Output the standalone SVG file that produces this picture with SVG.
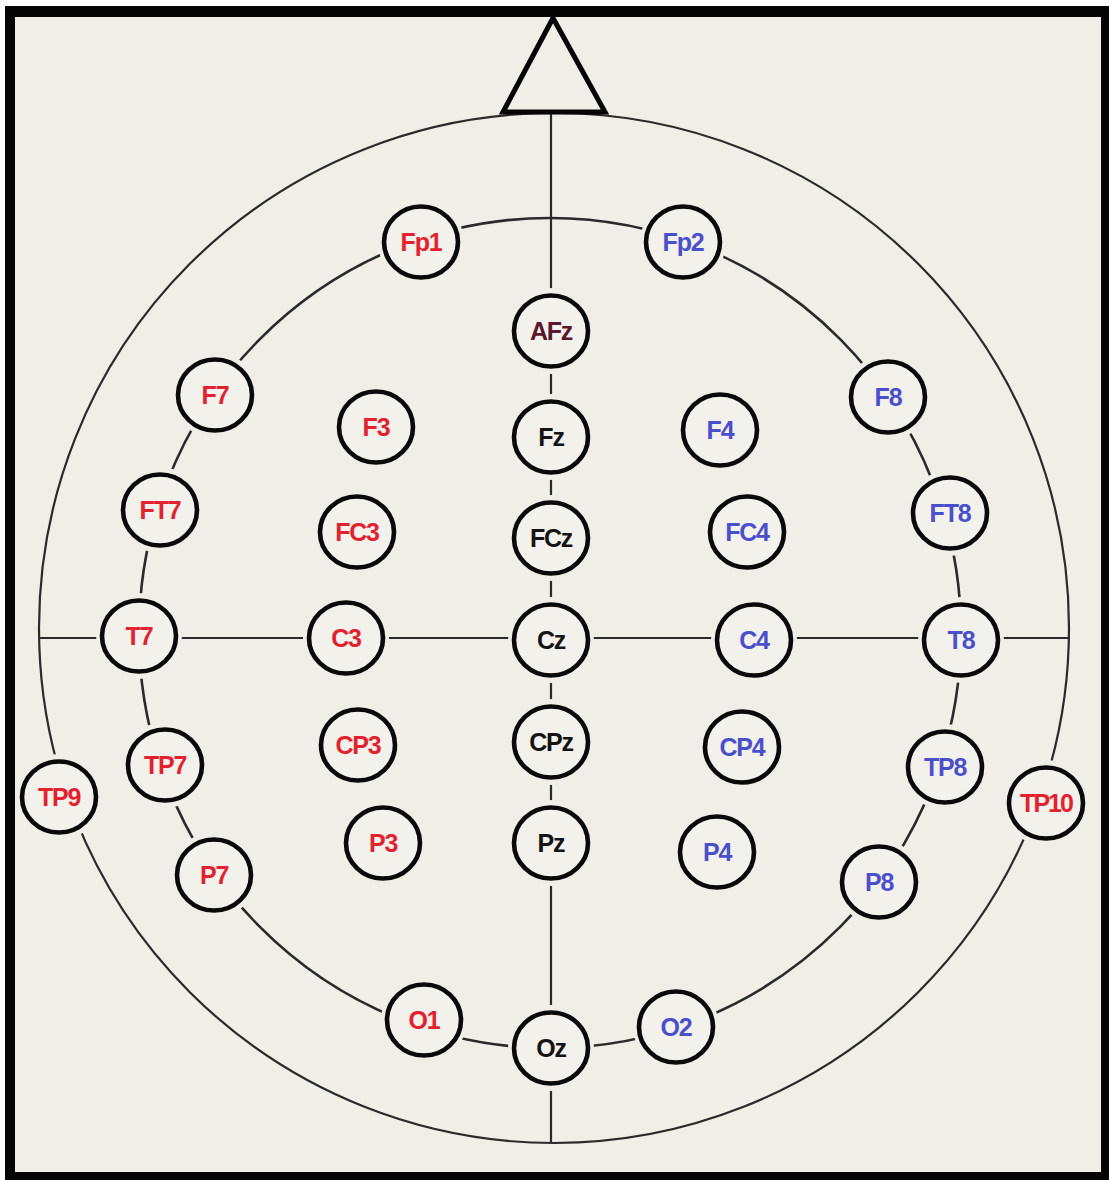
<svg xmlns="http://www.w3.org/2000/svg" width="1109" height="1180" viewBox="0 0 1109 1180">
<style>
.bg{fill:#f1eee8}
.line{fill:none;stroke:#2a2a2a;stroke-width:2.2}
.ring{fill:none;stroke:#2a2a2a;stroke-width:2.6}
.halo{fill:#f1eee8}
.node{fill:#f3f1ec;stroke:#0a0a0a;stroke-width:4.6}
text{font-family:"Liberation Sans",Arial,sans-serif;font-weight:bold;font-size:25px;text-anchor:middle;letter-spacing:-1.2px}
.r{fill:#e3222f}
.b{fill:#4b4fcc}
.k{fill:#141414}
.m{fill:#5a1830}
</style>
<rect x="0" y="0" width="1109" height="1180" fill="#ffffff"/>
<rect x="5" y="6" width="1104" height="1174" fill="#050505"/>
<rect class="bg" x="15" y="17" width="1086" height="1155"/>
<g id="connectors">
<ellipse class="line" cx="554" cy="628" rx="515" ry="515"/>
<ellipse class="ring" cx="550" cy="633" rx="411" ry="415"/>
<line class="line" x1="551" y1="112" x2="551" y2="1143"/>
<line class="line" x1="40" y1="638" x2="1070" y2="638"/>
</g>
<g id="nose">
<polygon points="553,18 503,112 605,112" fill="#f1eee8" stroke="#050505" stroke-width="5" stroke-linejoin="miter"/>
</g>
<g id="nodes">
<g id="Fp1"><circle class="halo" cx="421" cy="242" r="43"/><ellipse class="node" cx="421" cy="242" rx="37" ry="35.5"/><text class="r" x="421" y="251">Fp1</text></g>
<g id="Fp2"><circle class="halo" cx="683" cy="242" r="43"/><ellipse class="node" cx="683" cy="242" rx="37" ry="35.5"/><text class="b" x="683" y="251">Fp2</text></g>
<g id="AFz"><circle class="halo" cx="551" cy="331" r="43"/><ellipse class="node" cx="551" cy="331" rx="37" ry="35.5"/><text class="m" x="551" y="340">AFz</text></g>
<g id="F7"><circle class="halo" cx="215" cy="395" r="43"/><ellipse class="node" cx="215" cy="395" rx="37" ry="35.5"/><text class="r" x="215" y="404">F7</text></g>
<g id="F3"><circle class="halo" cx="376" cy="427" r="43"/><ellipse class="node" cx="376" cy="427" rx="37" ry="35.5"/><text class="r" x="376" y="436">F3</text></g>
<g id="Fz"><circle class="halo" cx="551" cy="437" r="43"/><ellipse class="node" cx="551" cy="437" rx="37" ry="35.5"/><text class="k" x="551" y="446">Fz</text></g>
<g id="F4"><circle class="halo" cx="720" cy="430" r="43"/><ellipse class="node" cx="720" cy="430" rx="37" ry="35.5"/><text class="b" x="720" y="439">F4</text></g>
<g id="F8"><circle class="halo" cx="888" cy="397" r="43"/><ellipse class="node" cx="888" cy="397" rx="37" ry="35.5"/><text class="b" x="888" y="406">F8</text></g>
<g id="FT7"><circle class="halo" cx="160" cy="510" r="43"/><ellipse class="node" cx="160" cy="510" rx="37" ry="35.5"/><text class="r" x="160" y="519">FT7</text></g>
<g id="FC3"><circle class="halo" cx="357" cy="532" r="43"/><ellipse class="node" cx="357" cy="532" rx="37" ry="35.5"/><text class="r" x="357" y="541">FC3</text></g>
<g id="FCz"><circle class="halo" cx="551" cy="538" r="43"/><ellipse class="node" cx="551" cy="538" rx="37" ry="35.5"/><text class="k" x="551" y="547">FCz</text></g>
<g id="FC4"><circle class="halo" cx="747" cy="532" r="43"/><ellipse class="node" cx="747" cy="532" rx="37" ry="35.5"/><text class="b" x="747" y="541">FC4</text></g>
<g id="FT8"><circle class="halo" cx="950" cy="513" r="43"/><ellipse class="node" cx="950" cy="513" rx="37" ry="35.5"/><text class="b" x="950" y="522">FT8</text></g>
<g id="T7"><circle class="halo" cx="139" cy="636" r="43"/><ellipse class="node" cx="139" cy="636" rx="37" ry="35.5"/><text class="r" x="139" y="645">T7</text></g>
<g id="C3"><circle class="halo" cx="346" cy="638" r="43"/><ellipse class="node" cx="346" cy="638" rx="37" ry="35.5"/><text class="r" x="346" y="647">C3</text></g>
<g id="Cz"><circle class="halo" cx="551" cy="640" r="43"/><ellipse class="node" cx="551" cy="640" rx="37" ry="35.5"/><text class="k" x="551" y="649">Cz</text></g>
<g id="C4"><circle class="halo" cx="754" cy="640" r="43"/><ellipse class="node" cx="754" cy="640" rx="37" ry="35.5"/><text class="b" x="754" y="649">C4</text></g>
<g id="T8"><circle class="halo" cx="961" cy="640" r="43"/><ellipse class="node" cx="961" cy="640" rx="37" ry="35.5"/><text class="b" x="961" y="649">T8</text></g>
<g id="TP9"><circle class="halo" cx="59" cy="797" r="43"/><ellipse class="node" cx="59" cy="797" rx="37" ry="35.5"/><text class="r" x="59" y="806">TP9</text></g>
<g id="TP7"><circle class="halo" cx="165" cy="765" r="43"/><ellipse class="node" cx="165" cy="765" rx="37" ry="35.5"/><text class="r" x="165" y="774">TP7</text></g>
<g id="CP3"><circle class="halo" cx="358" cy="745" r="43"/><ellipse class="node" cx="358" cy="745" rx="37" ry="35.5"/><text class="r" x="358" y="754">CP3</text></g>
<g id="CPz"><circle class="halo" cx="551" cy="742" r="43"/><ellipse class="node" cx="551" cy="742" rx="37" ry="35.5"/><text class="k" x="551" y="751">CPz</text></g>
<g id="CP4"><circle class="halo" cx="742" cy="747" r="43"/><ellipse class="node" cx="742" cy="747" rx="37" ry="35.5"/><text class="b" x="742" y="756">CP4</text></g>
<g id="TP8"><circle class="halo" cx="945" cy="767" r="43"/><ellipse class="node" cx="945" cy="767" rx="37" ry="35.5"/><text class="b" x="945" y="776">TP8</text></g>
<g id="TP10"><circle class="halo" cx="1046" cy="803" r="43"/><ellipse class="node" cx="1046" cy="803" rx="37" ry="35.5"/><text class="r" x="1046" y="812" style="letter-spacing:-2px">TP10</text></g>
<g id="P7"><circle class="halo" cx="214" cy="875" r="43"/><ellipse class="node" cx="214" cy="875" rx="37" ry="35.5"/><text class="r" x="214" y="884">P7</text></g>
<g id="P3"><circle class="halo" cx="383" cy="843" r="43"/><ellipse class="node" cx="383" cy="843" rx="37" ry="35.5"/><text class="r" x="383" y="852">P3</text></g>
<g id="Pz"><circle class="halo" cx="551" cy="843" r="43"/><ellipse class="node" cx="551" cy="843" rx="37" ry="35.5"/><text class="k" x="551" y="852">Pz</text></g>
<g id="P4"><circle class="halo" cx="717" cy="852" r="43"/><ellipse class="node" cx="717" cy="852" rx="37" ry="35.5"/><text class="b" x="717" y="861">P4</text></g>
<g id="P8"><circle class="halo" cx="879" cy="882" r="43"/><ellipse class="node" cx="879" cy="882" rx="37" ry="35.5"/><text class="b" x="879" y="891">P8</text></g>
<g id="O1"><circle class="halo" cx="424" cy="1020" r="43"/><ellipse class="node" cx="424" cy="1020" rx="37" ry="35.5"/><text class="r" x="424" y="1029">O1</text></g>
<g id="Oz"><circle class="halo" cx="551" cy="1048" r="43"/><ellipse class="node" cx="551" cy="1048" rx="37" ry="35.5"/><text class="k" x="551" y="1057">Oz</text></g>
<g id="O2"><circle class="halo" cx="676" cy="1027" r="43"/><ellipse class="node" cx="676" cy="1027" rx="37" ry="35.5"/><text class="b" x="676" y="1036">O2</text></g>
</g>
</svg>
